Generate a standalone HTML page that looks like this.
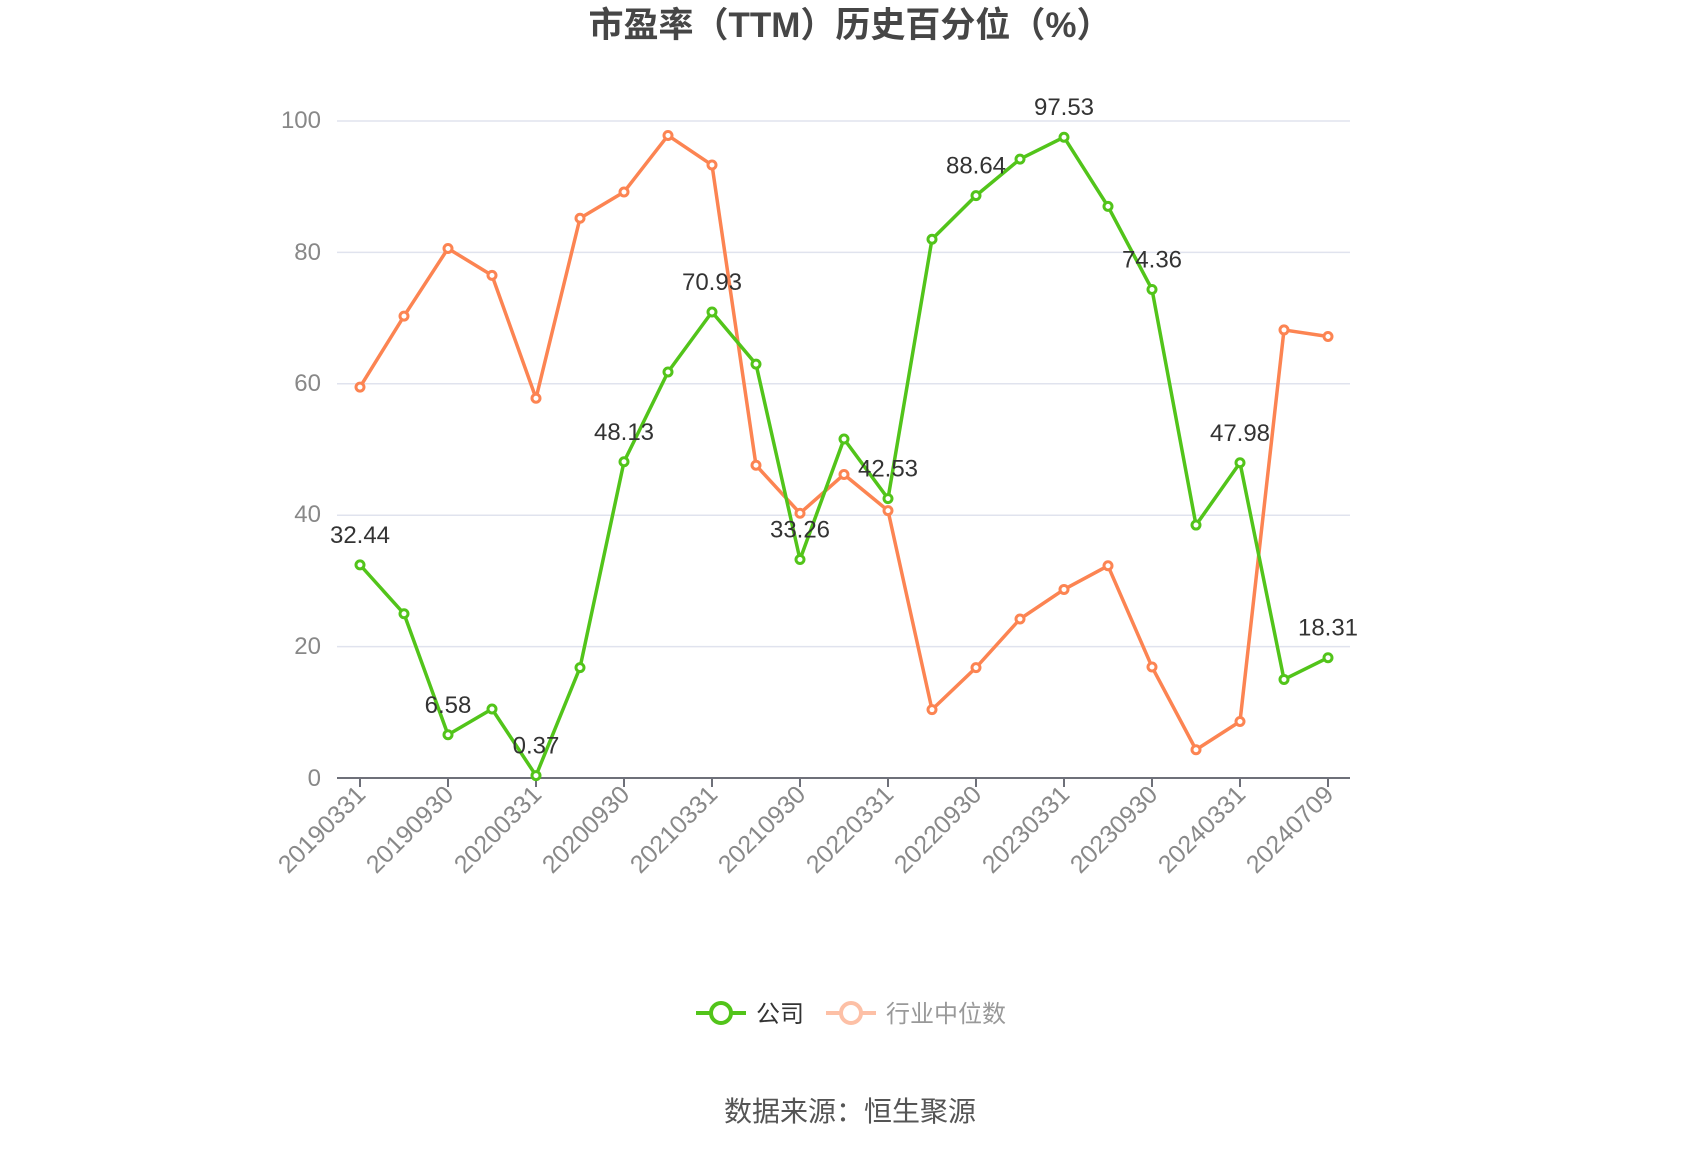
<!DOCTYPE html>
<html><head><meta charset="utf-8"><style>
html,body{margin:0;padding:0;background:#fff;}
svg{display:block;font-family:"Liberation Sans","Noto Sans CJK SC",sans-serif;}
</style></head><body>
<svg width="1700" height="1150" viewBox="0 0 1700 1150" xmlns="http://www.w3.org/2000/svg">
<text x="850" y="37" text-anchor="middle" font-size="35" font-weight="bold" fill="#464646">市盈率（TTM）历史百分位（%）</text>
<g stroke="#e0e3ee" stroke-width="1.5">
<line x1="337" y1="121" x2="1350" y2="121"/>
<line x1="337" y1="252.4" x2="1350" y2="252.4"/>
<line x1="337" y1="383.8" x2="1350" y2="383.8"/>
<line x1="337" y1="515.2" x2="1350" y2="515.2"/>
<line x1="337" y1="646.6" x2="1350" y2="646.6"/>
</g>
<g font-size="24" fill="#888" text-anchor="end">
<text x="321" y="128">100</text><text x="321" y="260">80</text><text x="321" y="391">60</text><text x="321" y="522">40</text><text x="321" y="654">20</text><text x="321" y="786">0</text>
</g>
<line x1="337" y1="778" x2="1350" y2="778" stroke="#6e7079" stroke-width="2"/>
<g id="ticks" stroke="#6e7079" stroke-width="2"></g>
<g id="xl" font-size="25" fill="#888"></g>
<polyline id="ind" fill="none" stroke="#fc8452" stroke-width="3.5" stroke-linejoin="round"/>
<polyline id="com" fill="none" stroke="#52c41a" stroke-width="3.5" stroke-linejoin="round"/>
<g id="pts"></g>
<g id="lbl" font-size="24" fill="#333" text-anchor="middle"></g>
<line x1="696" y1="1013" x2="746" y2="1013" stroke="#52c41a" stroke-width="4"/>
<circle cx="721" cy="1013" r="10" fill="#fff" stroke="#52c41a" stroke-width="4"/>
<text x="756" y="1022" font-size="24" fill="#333">公司</text>
<line x1="826" y1="1013" x2="876" y2="1013" stroke="#fdc0a6" stroke-width="4"/>
<circle cx="851" cy="1013" r="10" fill="#fff" stroke="#fdc0a6" stroke-width="4"/>
<text x="886" y="1022" font-size="24" fill="#999">行业中位数</text>
<text x="850" y="1121" text-anchor="middle" font-size="28" fill="#555">数据来源：恒生聚源</text>
</svg>
<script>
var c=[32.44,25,6.58,10.5,0.37,16.8,48.13,61.8,70.93,63,33.26,51.6,42.53,82,88.64,94.2,97.53,87,74.36,38.5,47.98,15,18.31];
var d=[59.5,70.3,80.6,76.5,57.8,85.2,89.2,97.8,93.3,47.6,40.3,46.2,40.7,10.4,16.8,24.2,28.7,32.3,16.9,4.3,8.6,68.2,67.2];
var L=["20190331","20190930","20200331","20200930","20210331","20210930","20220331","20220930","20230331","20230930","20240331","20240709"];
var NS="http://www.w3.org/2000/svg";
function X(i){return 360+i*44;}function Y(v){return 778-v*6.57;}
function el(t,a,p){var e=document.createElementNS(NS,t);for(var k in a)e.setAttribute(k,a[k]);p.appendChild(e);return e;}
document.getElementById('com').setAttribute('points',c.map(function(v,i){return X(i)+','+Y(v)}).join(' '));
document.getElementById('ind').setAttribute('points',d.map(function(v,i){return X(i)+','+Y(v)}).join(' '));
var pts=document.getElementById('pts');
d.forEach(function(v,i){el('circle',{cx:X(i),cy:Y(v),r:4,fill:'#fff',stroke:'#fc8452','stroke-width':3},pts);});
c.forEach(function(v,i){el('circle',{cx:X(i),cy:Y(v),r:4,fill:'#fff',stroke:'#52c41a','stroke-width':3},pts);});
var lb=document.getElementById('lbl'),tk=document.getElementById('ticks'),xl=document.getElementById('xl');
for(var i=0;i<23;i+=2){var t=el('text',{x:X(i),y:Y(c[i])-22},lb);t.textContent=c[i].toFixed(2);
el('line',{x1:X(i),y1:778,x2:X(i),y2:787},tk);
var s=el('text',{x:0,y:0,'text-anchor':'end',transform:'translate('+(X(i)+7)+',796) rotate(-45)'},xl);s.textContent=L[i/2];}
</script>
</body></html>
